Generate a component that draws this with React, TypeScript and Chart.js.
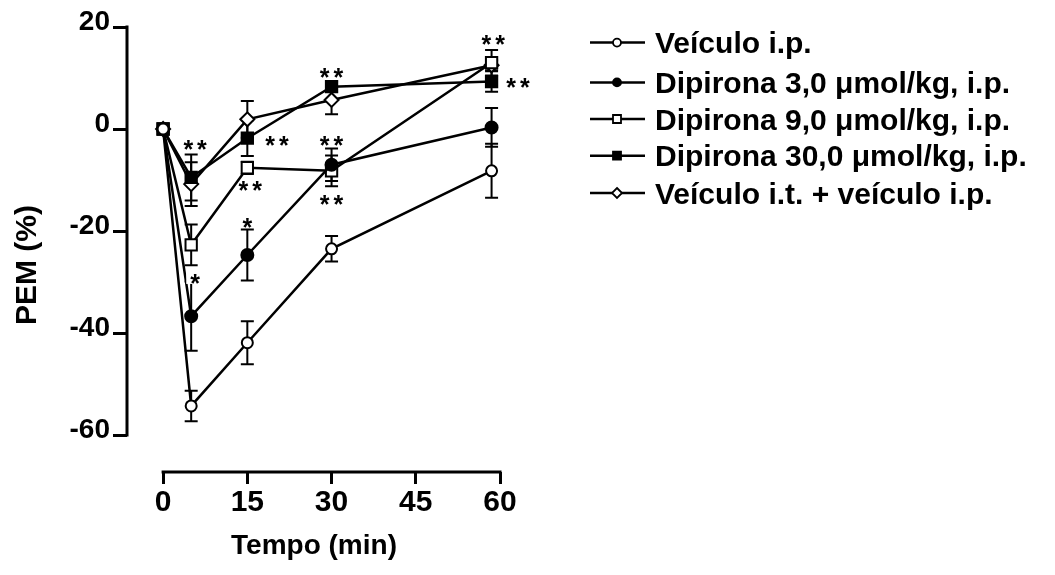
import React, { useEffect, useRef } from "react";
import { Chart, registerables } from "chart.js";

Chart.register(...registerables);

// ---- data ----
const times = [0, 5, 15, 30, 58.5];
const xTicks = [0, 15, 30, 45, 60];
const yTicks = [20, 0, -20, -40, -60];

const seriesLabels = [
  "Veículo i.p.",
  "Dipirona 3,0 μmol/kg, i.p.",
  "Dipirona 9,0 μmol/kg, i.p.",
  "Dipirona 30,0 μmol/kg, i.p.",
  "Veículo i.t. + veículo i.p.",
];

const veiculoIp = [0, -54.3, -41.9, -23.5, -8.2];
const veiculoIpErr = [0, 3, 4.2, 2.5, 5.3];
const dipirona3 = [0, -36.7, -24.7, -7, 0.3];
const dipirona3Err = [0, 6.8, 5, 3.2, 3.8];
const dipirona9 = [0, -22.7, -7.6, -8.2, 13];
const dipirona9Err = [0, 4, 1.2, 3, 2.5];
const dipirona30 = [0, -9.5, -1.8, 8.3, 9.3];
const dipirona30Err = [0, 4.5, 3.5, 1, 2];
const veiculoIt = [0, -10.8, 1.9, 5.7, 12.5];
const veiculoItErr = [0, 4.3, 3.6, 2.8, 1];

// significance marks
const sigX = [5.7, 20.3, 15.5, 5.7, 15, 30, 30, 30, 58.8, 63.2];
const sigY = [-3, -2.2, -11, -29.2, -18.2, 11.2, -2.2, -13.7, 17.6, 9.2];
const sigText = ["**", "**", "**", "*", "*", "**", "**", "**", "**", "**"];
const sigBg = [false, false, false, true, false, false, false, false, false, false];

const FONT = '"Liberation Sans", Arial, Helvetica, sans-serif';

const seriesValues = [veiculoIp, dipirona3, dipirona9, dipirona30, veiculoIt];
const seriesErrors = [veiculoIpErr, dipirona3Err, dipirona9Err, dipirona30Err, veiculoItErr];
const seriesStyle = ["circle", "circle", "rect", "rect", "rectRot"];
const seriesFill = ["#ffffff", "#000000", "#ffffff", "#000000", "#ffffff"];
const seriesRadius = [5.5, 6, 8, 8, 7];

function drawMarker(ctx: CanvasRenderingContext2D, style: string, x: number, y: number, r: number, fill: string) {
  ctx.save();
  ctx.beginPath();
  if (style === "circle") {
    ctx.arc(x, y, r, 0, Math.PI * 2);
  } else if (style === "rect") {
    ctx.rect(x - r, y - r, 2 * r, 2 * r);
  } else {
    ctx.moveTo(x, y - r);
    ctx.lineTo(x + r, y);
    ctx.lineTo(x, y + r);
    ctx.lineTo(x - r, y);
    ctx.closePath();
  }
  ctx.fillStyle = fill;
  ctx.fill();
  ctx.lineWidth = 1.8;
  ctx.strokeStyle = "#000";
  ctx.stroke();
  ctx.restore();
}

const customPlugin = {
  id: "customDecor",
  beforeDatasetsDraw(chart: any) {
    const ctx: CanvasRenderingContext2D = chart.ctx;
    const xs = chart.scales.x;
    const ys = chart.scales.y;
    ctx.save();
    ctx.strokeStyle = "#000";
    ctx.lineWidth = 3;
    ctx.beginPath();
    const ax = chart.chartArea.left;
    ctx.moveTo(ax, ys.getPixelForValue(20) - 1.5);
    ctx.lineTo(ax, ys.getPixelForValue(-60) + 1.5);
    const by = chart.chartArea.bottom;
    ctx.moveTo(xs.getPixelForValue(0) - 1.5, by);
    ctx.lineTo(xs.getPixelForValue(60) + 1.5, by);
    ctx.stroke();
    // error bars
    ctx.lineWidth = 2;
    seriesErrors.forEach((errs, di) => {
      const meta = chart.getDatasetMeta(di);
      errs.forEach((e, j) => {
        if (!e) return;
        const x = meta.data[j].x;
        const v = seriesValues[di][j];
        const yt = ys.getPixelForValue(v + e);
        const yb = ys.getPixelForValue(v - e);
        ctx.beginPath();
        ctx.moveTo(x, yt);
        ctx.lineTo(x, yb);
        ctx.moveTo(x - 6.5, yt);
        ctx.lineTo(x + 6.5, yt);
        ctx.moveTo(x - 6.5, yb);
        ctx.lineTo(x + 6.5, yb);
        ctx.stroke();
      });
    });
    ctx.restore();
  },
  afterDatasetsDraw(chart: any) {
    const ctx: CanvasRenderingContext2D = chart.ctx;
    const xs = chart.scales.x;
    const ys = chart.scales.y;
    ctx.save();
    ctx.font = `bold 25px ${FONT}`;
    (ctx as any).letterSpacing = "4px";
    ctx.textAlign = "center";
    ctx.textBaseline = "alphabetic";
    sigText.forEach((t, i) => {
      const x = xs.getPixelForValue(sigX[i]);
      const y = ys.getPixelForValue(sigY[i]);
      if (sigBg[i]) {
        const w = ctx.measureText(t).width;
        ctx.fillStyle = "#fff";
        ctx.fillRect(x - w / 2 - 2, y - 6, w + 4, 12);
      }
      ctx.fillStyle = "#000";
      ctx.fillText(t, x + 2, y + 14);
    });
    ctx.restore();
  },
  afterDraw(chart: any) {
    const ctx: CanvasRenderingContext2D = chart.ctx;
    ctx.save();
    ctx.fillStyle = "#000";
    ctx.font = `bold 30px ${FONT}`;
    ctx.textAlign = "center";
    ctx.textBaseline = "middle";
    ctx.save();
    ctx.translate(28, 265);
    ctx.rotate(-Math.PI / 2);
    ctx.fillText("PEM (%)", 0, 0);
    ctx.restore();
    ctx.font = `bold 28px ${FONT}`;
    ctx.fillText("Tempo (min)", 314, 546);
    // legend
    const rowY = [42.6, 82.4, 119, 155.7, 193];
    ctx.textAlign = "left";
    ctx.textBaseline = "alphabetic";
    ctx.font = `bold 30px ${FONT}`;
    seriesLabels.forEach((lab, i) => {
      const y = rowY[i];
      ctx.strokeStyle = "#000";
      ctx.lineWidth = 2.5;
      ctx.beginPath();
      ctx.moveTo(590, y);
      ctx.lineTo(645, y);
      ctx.stroke();
      const rr = seriesStyle[i] === "circle" ? 4 : seriesStyle[i] === "rect" ? 4 : 5;
      drawMarker(ctx, seriesStyle[i], 617, y, rr, seriesFill[i]);
      ctx.fillStyle = "#000";
      ctx.fillText(lab, 655, y + 10.7);
    });
    ctx.restore();
  },
};

export default function App() {
  const ref = useRef<HTMLCanvasElement>(null);
  useEffect(() => {
    document.body.style.margin = "0";
    const canvas = ref.current;
    if (!canvas) return;
    const datasets = seriesValues.map((vals, i) => ({
      label: seriesLabels[i],
      data: vals.map((v, j) => ({ x: times[j], y: v })),
      borderColor: "#000",
      borderWidth: 2.5,
      pointStyle: seriesStyle[i] as any,
      pointRadius: seriesRadius[i],
      pointBackgroundColor: seriesFill[i],
      pointBorderColor: "#000",
      pointBorderWidth: 2,
      tension: 0,
      fill: false,
    }));
    const chart = new Chart(canvas, {
      type: "line",
      data: { datasets },
      options: {
        responsive: false,
        maintainAspectRatio: false,
        devicePixelRatio: 1,
        animation: false,
        layout: { padding: { top: 27, right: 555, left: 0, bottom: 0 } },
        plugins: { legend: { display: false }, tooltip: { enabled: false } },
        scales: {
          x: {
            type: "linear",
            min: -6.43,
            max: 60,
            afterFit: (s: any) => {
              s.height = 103;
            },
            afterBuildTicks: (s: any) => {
              s.ticks = xTicks.map((value) => ({ value }));
            },
            grid: { display: true, drawOnChartArea: false, drawTicks: true, tickLength: 12, color: "#000", lineWidth: 3 },
            border: { display: false },
            ticks: {
              color: "#000",
              font: { family: FONT, size: 30, weight: "bold" },
              padding: 1,
              maxRotation: 0,
              autoSkip: false,
            },
          },
          y: {
            type: "linear",
            min: -67.25,
            max: 20,
            afterFit: (s: any) => {
              s.width = 127;
            },
            afterBuildTicks: (s: any) => {
              s.ticks = yTicks.map((value) => ({ value }));
            },
            grid: { display: true, drawOnChartArea: false, drawTicks: true, tickLength: 14, color: "#000", lineWidth: 3 },
            border: { display: false },
            ticks: {
              color: "#000",
              font: { family: FONT, size: 28, weight: "bold" },
              padding: 3,
              labelOffset: -5,
              autoSkip: false,
            },
          },
        },
      },
      plugins: [customPlugin],
    } as any);
    return () => chart.destroy();
  }, []);
  return (
    <div style={{ position: "absolute", left: 0, top: 0, width: 1055, height: 575, background: "#fff" }}>
      <canvas ref={ref} width={1055} height={575} style={{ display: "block", width: 1055, height: 575 }} />
    </div>
  );
}
